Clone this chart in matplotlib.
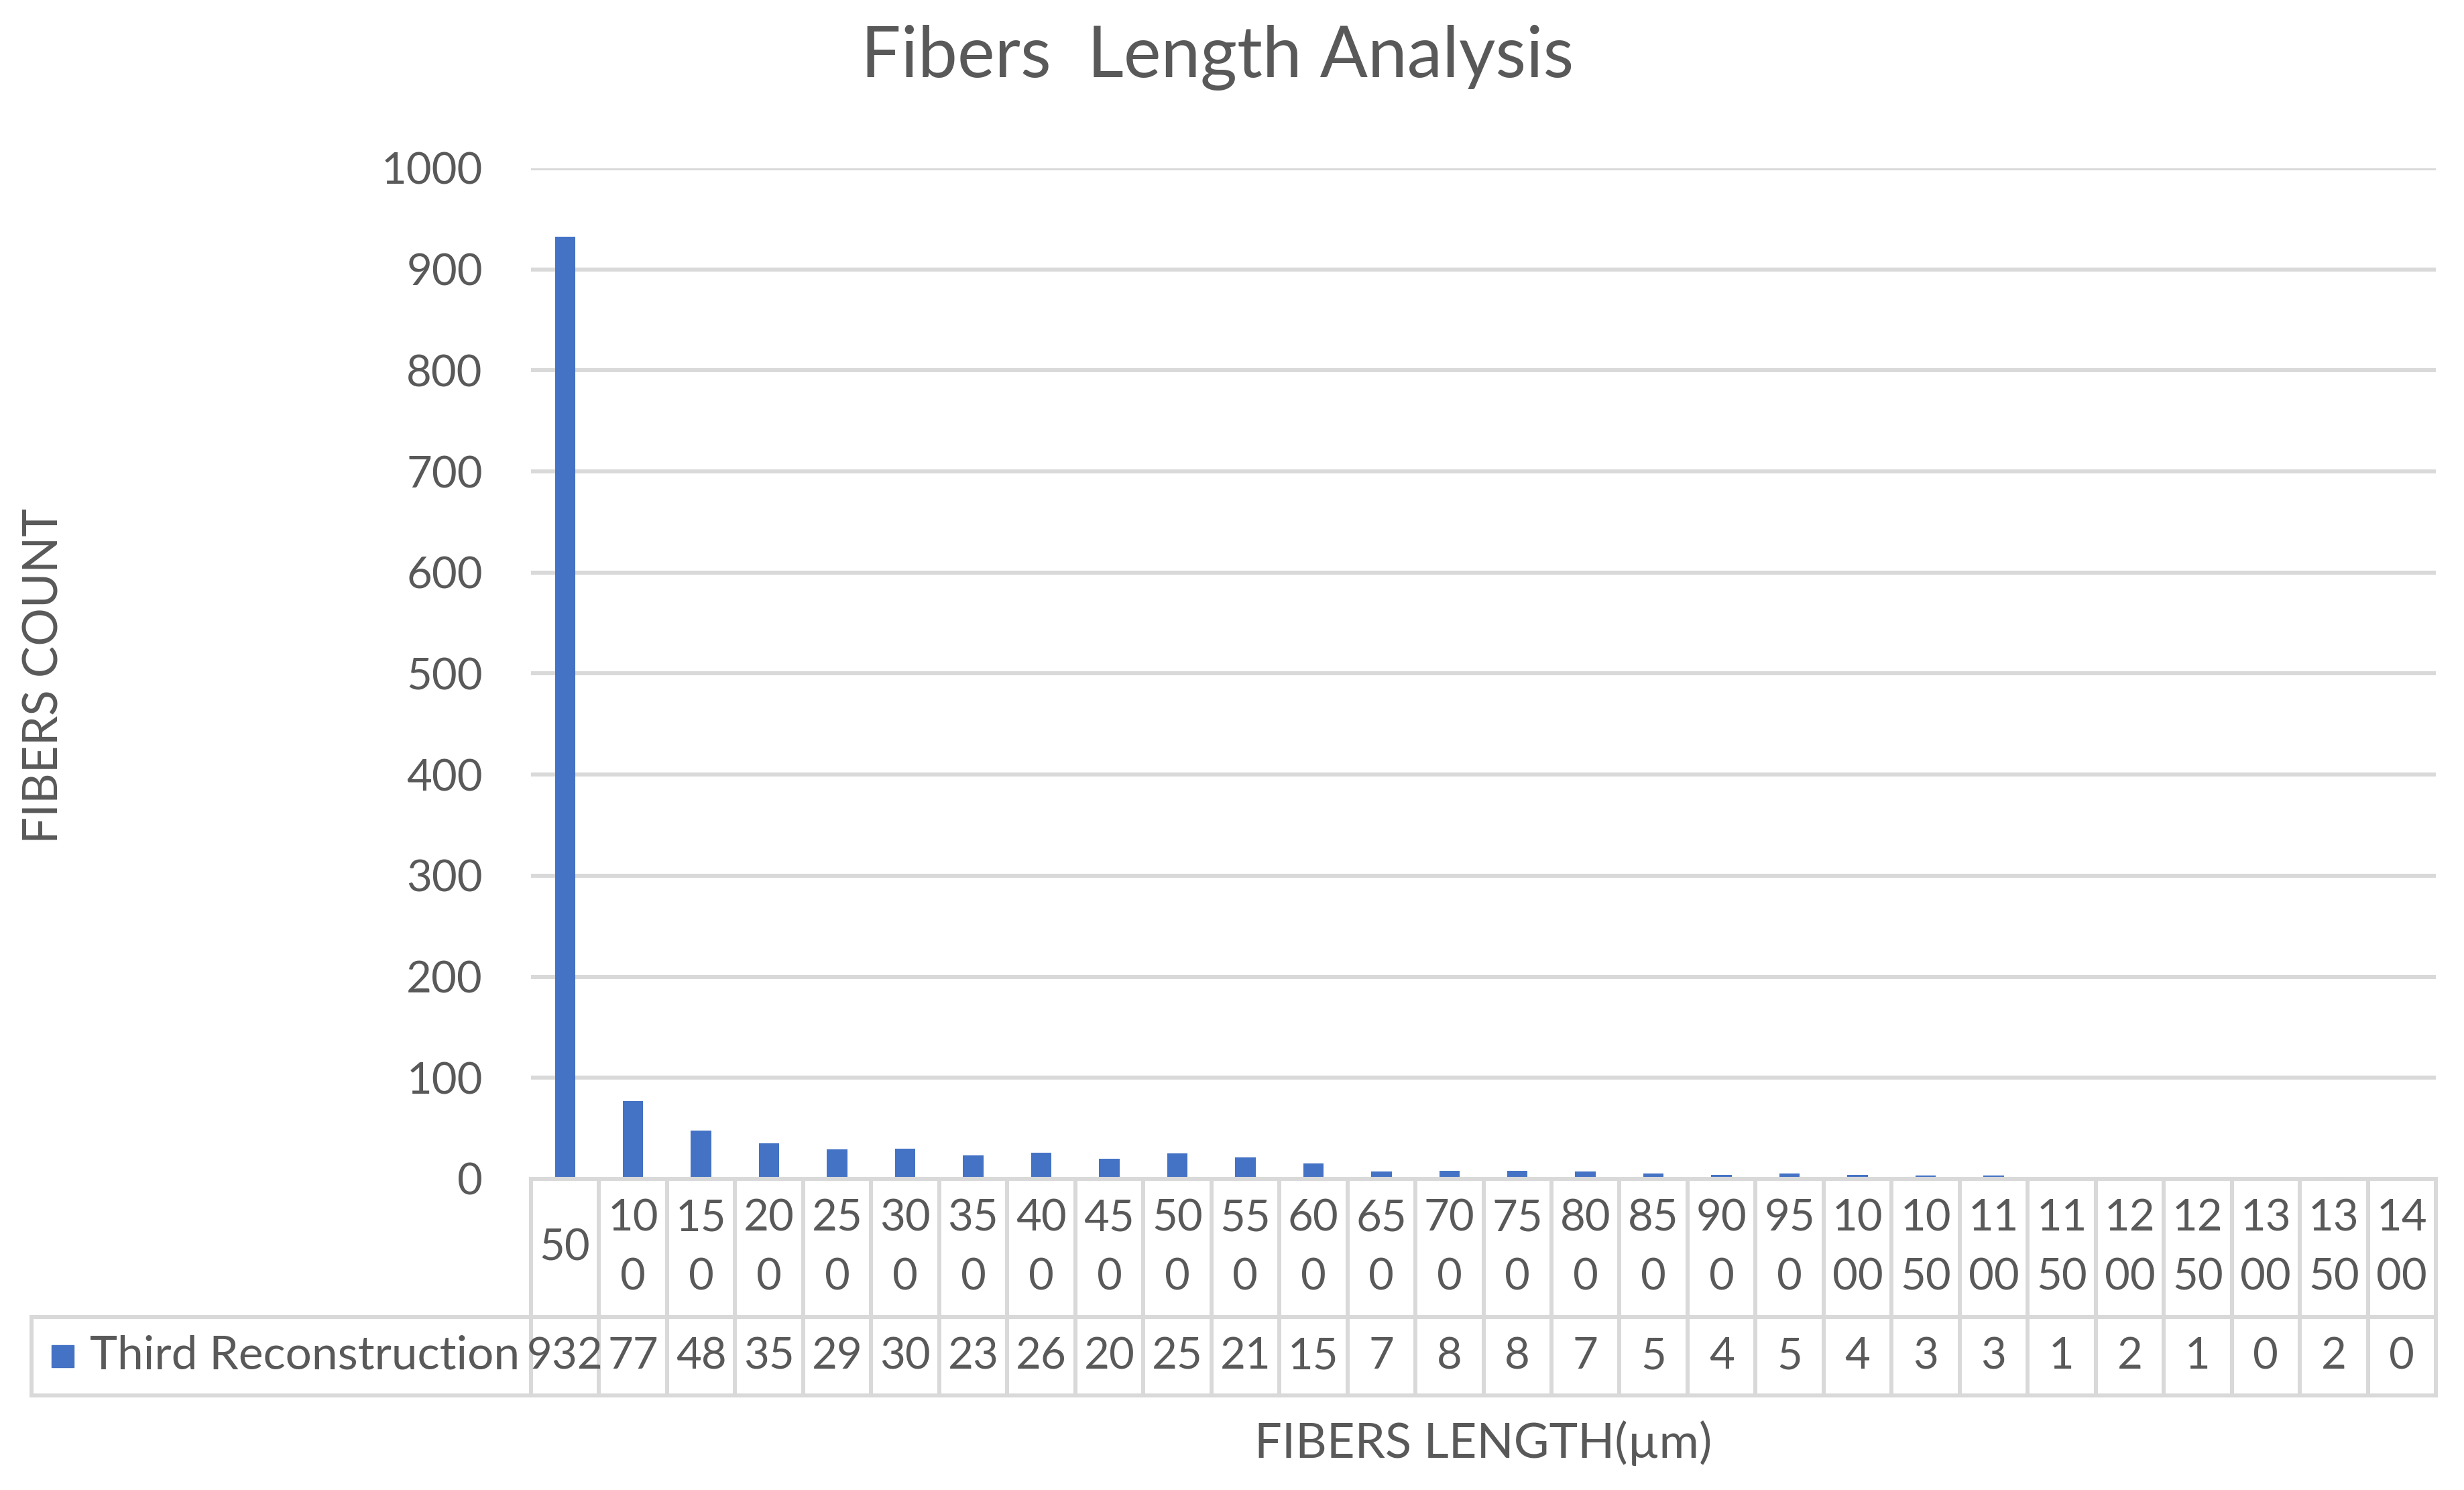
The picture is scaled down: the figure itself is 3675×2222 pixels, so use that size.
import matplotlib
matplotlib.use("Agg")
import matplotlib.pyplot as plt
from matplotlib import transforms
from matplotlib.lines import Line2D
from matplotlib.patches import Rectangle

plt.rcParams['font.family'] = ['Lato', 'DejaVu Sans']

lengths = [50, 100, 150, 200, 250, 300, 350, 400, 450, 500, 550, 600, 650, 700,
           750, 800, 850, 900, 950, 1000, 1050, 1100, 1150, 1200, 1250, 1300, 1350, 1400]
counts = [932, 77, 48, 35, 29, 30, 23, 26, 20, 25, 21, 15, 7, 8,
          8, 7, 5, 4, 5, 4, 3, 3, 1, 2, 1, 0, 2, 0]
series_name = "Third Reconstruction"
y_ticks = [0, 100, 200, 300, 400, 500, 600, 700, 800, 900, 1000]

W, H = 3675, 2222
TXT = '#595959'
GRID = '#D9D9D9'
BLUE = '#4472C4'


def fy(y):
    return 1 - y / H


def fx(x):
    return x / W


fig = plt.figure(figsize=(W / 100, H / 100), dpi=100)
ax = fig.add_axes([fx(792), fy(1758), fx(3633) - fx(792), fy(251) - fy(1758)])

x = list(range(len(lengths)))
ax.bar(x, counts, width=0.3, color=BLUE, zorder=3)
ax.set_xlim(-0.5, len(lengths) - 0.5)
ax.set_ylim(0, 1000)
ax.set_yticks(y_ticks)
ax.set_yticklabels([str(v) for v in y_ticks], fontsize=47, color=TXT)
ax.tick_params(axis='y', length=0, pad=52)
ax.set_xticks([])
ax.yaxis.grid(True, color=GRID, linewidth=4.3, zorder=0)
ax.set_axisbelow(True)
for s in ax.spines.values():
    s.set_visible(False)

# data table under the axis
tr = transforms.blended_transform_factory(ax.transData, fig.transFigure)
top, mid, bot = fy(1758), fy(1964), fy(2081)
lw = 4.3
fig.add_artist(Line2D([fx(792), fx(3633)], [top, top], color=GRID, lw=lw))
fig.add_artist(Line2D([fx(47), fx(3633)], [mid, mid], color=GRID, lw=lw))
fig.add_artist(Line2D([fx(47), fx(3633)], [bot, bot], color=GRID, lw=lw))
fig.add_artist(Line2D([fx(47), fx(47)], [mid, bot], color=GRID, lw=lw))
for i in range(len(lengths) + 1):
    ax.add_line(Line2D([i - 0.5, i - 0.5], [top, bot], color=GRID, lw=lw,
                       transform=tr, clip_on=False))

hc = (top + mid) / 2
dc = (mid + bot) / 2
off = 44.5 / H
for i, (l, c) in enumerate(zip(lengths, counts)):
    s = str(l)
    if len(s) > 2:
        ax.text(i, hc + off, s[:2], transform=tr, ha='center', va='center',
                fontsize=47, color=TXT)
        ax.text(i, hc - off, s[2:], transform=tr, ha='center', va='center',
                fontsize=47, color=TXT)
    else:
        ax.text(i, hc, s, transform=tr, ha='center', va='center',
                fontsize=47, color=TXT)
    ax.text(i, dc, str(c), transform=tr, ha='center', va='center',
            fontsize=47, color=TXT)

# legend key in table
fig.add_artist(Rectangle((fx(77), dc - 16.5 / H), 33 / W, 33 / H,
                         transform=fig.transFigure, color=BLUE))
fig.text(fx(134), dc, series_name, ha='left', va='center', fontsize=50, color=TXT)

fig.text(0.5 * (fx(792) + fx(3633)), fy(2152), "FIBERS LENGTH(µm)",
         ha='center', va='center', fontsize=52, color=TXT)
fig.text(fx(66), fy(1008), "FIBERS COUNT", rotation=90,
         ha='center', va='center', fontsize=51, color=TXT)
fig.text(fx(1816), fy(86), "Fibers  Length Analysis",
         ha='center', va='center', fontsize=76, color=TXT)

fig.savefig("out.png", dpi=100, facecolor='white')
